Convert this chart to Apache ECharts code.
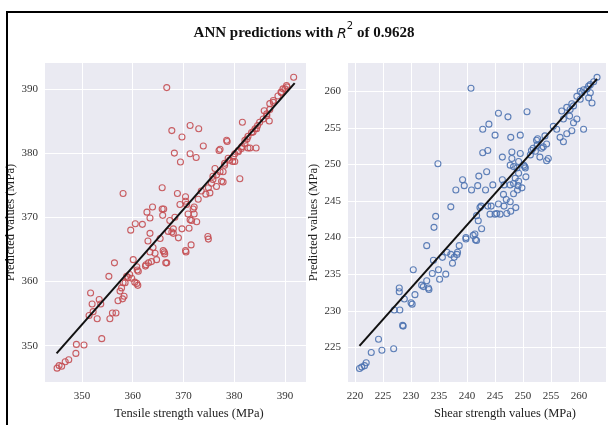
<!DOCTYPE html>
<html><head><meta charset="utf-8">
<script src="https://cdn.jsdelivr.net/npm/echarts@6/dist/echarts.min.js"></script>
<style>html,body{margin:0;padding:0;background:#fff}#c{width:608px;height:425px}</style>
</head><body><div id="c"></div>
<script>
// ---- data ----
const leftXName = 'Tensile strength values (MPa)';
const rightXName = 'Shear strength values (MPa)';
const yName = 'Predicted values (MPa)';

const tensileActual = [366.7,391.7,358.1,365.8,367.7,369.7,371.3,373.0,373.9,368.2,371.3,372.5,369.4,377.0,378.6,381.6,381.1,384.3,377.8,368.8,370.4,365.8,363.9,362.8,363.4,365.9,359.6,360.5,361.9,363.4,363.0,371.5,374.8,374.9,372.1,372.1,372.6,371.3,371.1,369.7,369.0,368.0,367.0,367.3,368.3,370.4,369.3,
390.3,389.6,389.2,388.6,387.7,387.0,385.9,386.4,386.9,385.7,385.0,384.6,384.1,383.4,382.7,382.1,383.1,381.5,380.8,380.1,378.8,378.5,377.2,379.7,378.1,376.2,377.8,375.8,377.5,
374.4,375.2,376.5,374.9,375.5,373.5,372.9,370.6,371.9,370.9,371.6,368.0,367.7,366.1,364.0,365.4,364.4,366.0,366.3,366.7,364.7,363.7,363.1,362.6,360.1,360.8,361.1,359.4,358.8,359.8,360.4,360.8,358.1,357.8,370.4,
345.1,346.0,345.5,346.7,347.4,348.8,348.9,350.4,353.9,353.0,351.4,352.2,352.0,351.7,353.4,353.7,355.5,356.0,356.7,355.3,356.4,357.1,358.0,358.3,360.9,361.0,362.5,366.5,366.2,370.5,357.5,358.5,359.1,363.4,
375.8,376.5,377.2,378.1,379.1,379.8,380.1,380.8,381.4,382.1,382.5,382.7,383.7,384.4,386.4,387.0,387.7,389.3,390.0,390.4];
const tensilePred = [390.2,391.8,373.7,374.6,383.5,382.5,384.3,383.8,381.1,380.0,379.9,379.3,378.6,380.4,381.8,384.8,376.0,380.8,375.5,373.7,373.2,371.3,371.6,370.8,369.9,370.3,368.0,369.0,368.9,367.5,366.3,365.7,367.0,366.6,371.6,370.5,369.3,369.6,368.3,368.2,366.8,367.5,367.8,369.5,370.0,372.5,372.0,
390.5,390.0,389.5,388.9,388.2,387.7,386.6,386.1,385.0,385.3,384.8,384.3,383.8,383.2,382.6,382.0,380.8,381.0,380.4,379.9,379.2,382.0,380.6,378.7,378.1,377.6,377.1,376.4,375.6,
373.6,373.8,374.8,374.6,375.3,374.1,372.8,372.0,371.3,370.5,369.5,368.2,367.7,371.3,365.3,366.7,364.4,364.8,364.3,362.9,363.4,363.1,362.9,362.6,363.4,362.3,361.6,361.1,360.8,360.5,359.9,359.7,359.8,359.0,364.8,
346.5,346.8,346.9,347.5,347.8,348.8,350.2,350.1,351.1,354.2,354.7,355.3,356.5,358.2,357.2,356.5,354.2,355.1,355.1,360.8,362.9,357.0,357.3,357.7,361.8,359.4,362.4,362.9,364.6,364.6,358.5,359.8,360.6,364.6,
375.9,376.6,377.1,378.4,378.9,379.4,378.7,380.2,380.7,381.5,382.2,380.8,383.3,383.8,385.8,386.8,387.9,389.4,390.0,390.3];

const shearActual = [240.7,263.2,234.8,234.4,234.1,232.8,237.1,238.0,239.2,239.5,240.8,241.9,242.1,243.5,243.3,244.6,242.8,243.7,242.8,243.9,245.0,245.6,247.3,247.8,249.5,250.7,246.3,246.3,246.5,246.6,245.6,245.9,245.0,244.1,247.1,247.8,248.7,243.7,244.3,242.5,241.7,242.3,242.0,242.6,241.1,241.5,239.8,
248.3,249.0,249.1,249.2,248.3,247.7,248.3,248.0,249.5,249.2,250.1,250.5,250.3,251.3,251.8,252.5,253.0,253.3,252.2,252.6,253.9,254.2,254.5,254.2,255.4,256.0,256.9,257.2,257.8,258.3,259.0,257.8,256.6,257.2,260.8,259.6,260.2,260.8,261.4,262.0,262.3,261.7,262.6,262.0,259.0,258.4,260.2,
220.8,221.2,221.7,222.0,222.9,224.2,224.8,226.9,227.0,228.0,228.5,228.6,227.9,227.9,228.8,230.4,230.7,230.0,230.2,231.9,232.2,232.8,233.2,233.8,234.0,234.9,235.1,236.2,235.6,236.4,237.1,237.4,237.7,238.2,238.3,238.6,239.8,241.7,233.1,241.4,
258.7,260.5,261.7,258.7,259.6,252.4,253.6,251.5,248.9,250.4,248.6,249.8,247.7,246.6,245.3,247.0,247.7,248.0,249.2];
const shearPred = [260.4,261.9,250.1,242.9,241.4,238.9,244.2,246.5,247.9,247.1,246.5,247.1,248.4,249.0,246.5,247.2,251.6,251.9,254.8,255.5,254.0,257.0,256.5,253.7,254.0,257.2,251.0,247.9,245.9,244.3,244.6,243.2,243.2,243.2,243.3,243.6,244.1,244.3,244.3,244.3,243.0,244.1,242.3,241.2,240.3,239.7,240.0,
246.0,246.5,247.1,247.7,247.4,249.9,249.7,250.8,251.5,250.4,249.9,248.3,249.7,251.3,252.2,252.6,251.0,252.2,251.8,253.5,253.9,252.8,250.8,250.5,255.2,254.8,257.3,256.2,257.8,256.6,255.7,254.2,253.7,253.1,254.8,259.3,260.0,260.2,260.3,259.8,258.4,259.1,261.3,260.9,258.0,257.5,258.9,
222.1,222.3,222.5,222.9,224.3,226.1,224.6,224.8,230.1,230.1,228.0,227.9,233.1,232.6,231.6,235.6,232.2,231.1,230.9,233.5,233.3,234.1,232.9,235.1,236.9,235.6,234.3,235.0,237.3,238.0,237.7,236.5,237.3,237.7,238.0,238.9,239.8,239.6,233.1,240.5,
258.3,259.8,260.7,254.6,256.2,253.3,252.4,251.9,249.5,249.5,248.1,246.8,247.2,247.2,243.3,245.2,244.9,251.7,248.8];

const tensileFitX = [345.0, 391.9];
const tensileFitY = [348.8, 390.9];
const shearFitX = [220.8, 263.2];
const shearFitY = [225.2, 261.7];

// ---- chart ----
const pairs = (a, b) => a.map((v, i) => [v, b[i]]);
const serif = 'Liberation Serif, Times New Roman, serif';
const bg = '#eaeaf2';

function xAxis(idx, min, max, split, name, shift) {
  return {
    type: 'value', gridIndex: idx, min: min, max: max, splitNumber: split,
    axisLine: {show: false}, axisTick: {show: false},
    axisLabel: {fontFamily: serif, fontSize: 11, color: '#333', margin: 9, showMinLabel: false, showMaxLabel: false},
    splitLine: {show: true, showMinLine: false, showMaxLine: false, lineStyle: {color: '#fff', width: 1}},
    name: name, nameLocation: 'middle', nameGap: 24,
    nameTextStyle: {fontFamily: serif, fontSize: 12.5, color: '#222', padding: [0, 0, 0, shift]}
  };
}
function yAxis(idx, min, max, split, gap) {
  return {
    type: 'value', gridIndex: idx, min: min, max: max, splitNumber: split,
    axisLine: {show: false}, axisTick: {show: false},
    axisLabel: {fontFamily: serif, fontSize: 11, color: '#333', margin: 7, showMinLabel: false, showMaxLabel: false},
    splitLine: {show: true, showMinLine: false, showMaxLine: false, lineStyle: {color: '#fff', width: 1}},
    name: yName, nameLocation: 'middle', nameRotate: 90, nameGap: gap,
    nameTextStyle: {fontFamily: serif, fontSize: 12.5, color: '#222'}
  };
}

const chart = echarts.init(document.getElementById('c'), null, {renderer: 'canvas'});
chart.setOption({
  animation: false,
  backgroundColor: '#fff',
  title: {
    text: '{a|ANN predictions with }{r|R}{s|2}{a| of 0.9628}',
    left: 'center', top: 16,
    textStyle: {
      rich: {
        a: {fontFamily: serif, fontWeight: 'bold', fontSize: 15, color: '#111', verticalAlign: 'bottom', lineHeight: 20},
        r: {fontFamily: 'DejaVu Sans', fontStyle: 'italic', fontWeight: 'normal', fontSize: 14, color: '#111', verticalAlign: 'bottom', lineHeight: 20},
        s: {fontFamily: 'DejaVu Sans', fontWeight: 'normal', fontSize: 10, color: '#111', verticalAlign: 'top', lineHeight: 12}
      }
    }
  },
  graphic: [{
    type: 'rect', shape: {x: 7, y: 12, width: 640, height: 440},
    style: {fill: 'none', stroke: '#000', lineWidth: 2}, silent: true, z: 100
  }],
  grid: [
    {left: 45, top: 63, width: 261, height: 324, show: true, backgroundColor: bg, borderWidth: 0},
    {left: 348, top: 63, width: 258, height: 324, show: true, backgroundColor: bg, borderWidth: 0}
  ],
  xAxis: [xAxis(0, 342.72, 394.13, 5, leftXName, 27), xAxis(1, 218.75, 264.8, 9, rightXName, 56)],
  yAxis: [yAxis(0, 344.33, 394.03, 5, 22), yAxis(1, 220.25, 263.86, 8, 25)],
  series: [
    {type: 'scatter', xAxisIndex: 0, yAxisIndex: 0, data: pairs(tensileActual, tensilePred),
     symbol: 'circle', symbolSize: 6,
     itemStyle: {color: 'rgba(0,0,0,0)', borderColor: '#c44e52', borderWidth: 1.1, opacity: 0.9}},
    {type: 'line', xAxisIndex: 0, yAxisIndex: 0, data: pairs(tensileFitX, tensileFitY),
     showSymbol: false, lineStyle: {color: '#111', width: 2}, z: 5},
    {type: 'scatter', xAxisIndex: 1, yAxisIndex: 1, data: pairs(shearActual, shearPred),
     symbol: 'circle', symbolSize: 6,
     itemStyle: {color: 'rgba(0,0,0,0)', borderColor: '#4c72b0', borderWidth: 1.1, opacity: 0.9}},
    {type: 'line', xAxisIndex: 1, yAxisIndex: 1, data: pairs(shearFitX, shearFitY),
     showSymbol: false, lineStyle: {color: '#111', width: 2}, z: 5}
  ]
});
</script></body></html>
